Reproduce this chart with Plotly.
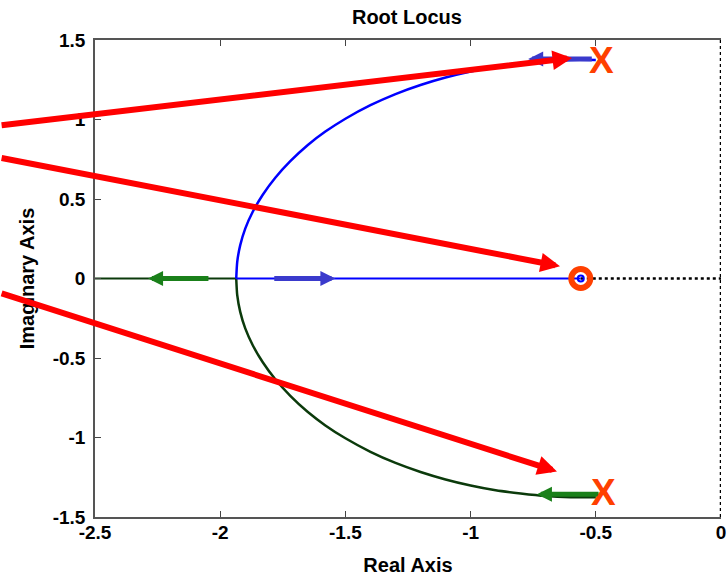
import plotly.graph_objects as go

# ---- data ----
upper_re = [-0.50, -0.60, -0.70, -0.80, -0.90, -1.00, -1.10, -1.20, -1.30, -1.40, -1.50, -1.58, -1.65, -1.72, -1.78, -1.83, -1.87, -1.90, -1.92, -1.932, -1.936]
upper_im = [1.375, 1.375, 1.368, 1.352, 1.332, 1.302, 1.264, 1.217, 1.160, 1.090, 1.005, 0.924, 0.840, 0.738, 0.634, 0.527, 0.420, 0.314, 0.210, 0.105, 0.0]
lower_re = [-0.50, -0.60, -0.70, -0.80, -0.90, -1.00, -1.10, -1.20, -1.30, -1.40, -1.50, -1.58, -1.65, -1.72, -1.78, -1.83, -1.87, -1.90, -1.92, -1.932, -1.936]
lower_im = [-1.375, -1.375, -1.368, -1.352, -1.332, -1.302, -1.264, -1.217, -1.160, -1.090, -1.005, -0.924, -0.840, -0.738, -0.634, -0.527, -0.420, -0.314, -0.210, -0.105, 0.0]
real_blue_re = [-1.936, -0.56]
real_green_re = [-1.936, -2.5]
real_dotted_re = [-0.56, 0.0]
imag_axis_im = [-1.5, 1.5]

zero_re = [-0.56]
zero_im = [0.0]

# direction arrows along the locus: (tip_x, tip_y, tail_x, tail_y)
blue_arrows = [(-0.77, 1.38, -0.51, 1.38), (-1.54, 0.0, -1.79, 0.0)]
green_arrows = [(-0.735, -1.357, -0.483, -1.357), (-2.288, 0.0, -2.041, 0.0)]
# red call-out arrows: (tip_x, tip_y, tail_x, tail_y)
red_arrows = [(-0.595, 1.387, -2.879, 0.963), (-0.643, 0.077, -2.879, 0.760), (-0.655, -1.214, -2.879, -0.090)]
x_mark_re = [-0.478, -0.471]
x_mark_im = [1.37, -1.346]

xtick_vals = [-2.5, -2, -1.5, -1, -0.5, 0]
xtick_text = ["-2.5", "-2", "-1.5", "-1", "-0.5", "0"]
ytick_vals = [-1.5, -1, -0.5, 0, 0.5, 1, 1.5]
ytick_text = ["-1.5", "-1", "-0.5", "0", "0.5", "1", "1.5"]

BLUE = "#0000ff"
DKGREEN = "#0b3a0b"
ARROW_BLUE = "#3a3acc"
ARROW_GREEN = "#1a801a"
ORANGE = "#ff4000"
FONT = "Liberation Sans, Arial"

fig = go.Figure()

# dotted imaginary axis / real axis segment
fig.add_trace(go.Scatter(x=[0, 0], y=imag_axis_im, mode="lines",
                         line=dict(color="black", width=2.5, dash="dot"), cliponaxis=False, hoverinfo="skip"))
fig.add_trace(go.Scatter(x=real_dotted_re, y=[0, 0], mode="lines",
                         line=dict(color="black", width=2.5, dash="dot"), hoverinfo="skip"))
# locus branches
fig.add_trace(go.Scatter(x=real_green_re, y=[0, 0], mode="lines", line=dict(color=DKGREEN, width=2)))
fig.add_trace(go.Scatter(x=lower_re, y=lower_im, mode="lines",
                         line=dict(color=DKGREEN, width=2.5, shape="spline", smoothing=0.6)))
fig.add_trace(go.Scatter(x=upper_re, y=upper_im, mode="lines",
                         line=dict(color=BLUE, width=2.5, shape="spline", smoothing=0.6)))
fig.add_trace(go.Scatter(x=real_blue_re, y=[0, 0], mode="lines", line=dict(color=BLUE, width=2)))
# zero marker
fig.add_trace(go.Scatter(x=zero_re, y=zero_im, mode="markers",
                         marker=dict(symbol="circle-open", size=19, color=ORANGE, line=dict(color=ORANGE, width=6))))
fig.add_trace(go.Scatter(x=zero_re, y=zero_im, mode="markers",
                         marker=dict(symbol="circle-open", size=6, color=BLUE, line=dict(color=BLUE, width=2))))

ann = []
for (tx, ty, sx, sy) in blue_arrows:
    ann.append(dict(x=tx, y=ty, ax=sx, ay=sy, xref="x", yref="y", axref="x", ayref="y", text="",
                    showarrow=True, arrowhead=2, arrowsize=0.6, arrowwidth=5, arrowcolor=ARROW_BLUE, standoff=0))
for (tx, ty, sx, sy) in green_arrows:
    ann.append(dict(x=tx, y=ty, ax=sx, ay=sy, xref="x", yref="y", axref="x", ayref="y", text="",
                    showarrow=True, arrowhead=2, arrowsize=0.6, arrowwidth=5, arrowcolor=ARROW_GREEN, standoff=0))
for (tx, ty, sx, sy) in red_arrows:
    ann.append(dict(x=tx, y=ty, ax=sx, ay=sy, xref="x", yref="y", axref="x", ayref="y", text="",
                    showarrow=True, arrowhead=2, arrowsize=0.65, arrowwidth=6, arrowcolor="#ff0000", standoff=0))
for xr, xi in zip(x_mark_re, x_mark_im):
    ann.append(dict(x=xr, y=xi, xref="x", yref="y", text="<b>X</b>", showarrow=False,
                    font=dict(family=FONT, size=37, color=ORANGE)))

fig.update_layout(
    width=728, height=577,
    margin=dict(l=95, r=7, t=40, b=60),
    paper_bgcolor="white", plot_bgcolor="white",
    showlegend=False,
    font=dict(family=FONT, size=19, color="black"),
    title=dict(text="<b>Root Locus</b>", x=0.559, xanchor="center", y=0.9705, yanchor="middle",
               font=dict(size=20)),
    annotations=ann,
    xaxis=dict(range=[-2.5, 0], tickvals=xtick_vals, ticktext=xtick_text, showgrid=False, zeroline=False,
               showline=True, linecolor="#555555", linewidth=1.5, mirror="ticks", ticks="inside", ticklen=6,
               tickcolor="#444444", ticklabelstandoff=-3, automargin=False,
               tickfont=dict(family=FONT, size=19, weight="bold"),
               title=dict(text="<b>Real Axis</b>", font=dict(size=20), standoff=16)),
    yaxis=dict(range=[-1.5, 1.5], tickvals=ytick_vals, ticktext=ytick_text, showgrid=False, zeroline=False,
               showline=True, linecolor="#555555", linewidth=1.5, mirror=False, ticks="inside", ticklen=6,
               tickcolor="#444444", ticklabelstandoff=4, automargin=False,
               tickfont=dict(family=FONT, size=19, weight="bold"),
               title=dict(text="<b>Imaginary Axis</b>", font=dict(size=20), standoff=13)),
)

fig.write_html(
    "out.html",
    config={"displayModeBar": False},
    post_script="document.body.style.margin='0px';document.body.style.overflow='hidden';"
                "document.documentElement.style.overflow='hidden';",
)
